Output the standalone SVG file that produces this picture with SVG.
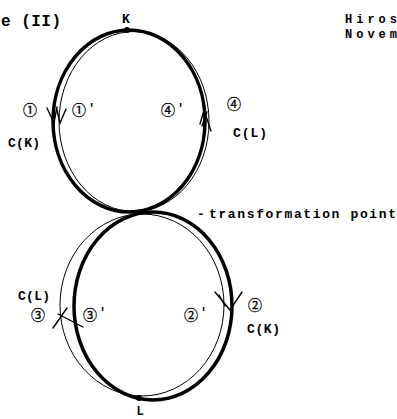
<svg xmlns="http://www.w3.org/2000/svg" width="397" height="419" viewBox="0 0 397 419">
<style>
.thick{fill:none;stroke:#000;stroke-width:3.5}
.thin{fill:none;stroke:#000;stroke-width:1}
.arr{fill:none;stroke:#000;stroke-width:1.4;stroke-linecap:round}
.t{font-family:"Liberation Mono","DejaVu Sans Mono",monospace;font-weight:bold;fill:#000}
.c{font-family:"Noto Sans CJK JP","Noto Sans CJK SC","DejaVu Sans",sans-serif;fill:#000;stroke:#000;stroke-width:0.3;font-size:14px}
</style>
<rect width="397" height="419" fill="#fff"/>
<g id="title">
<text class="t" x="1" y="26" font-size="16" textLength="60" lengthAdjust="spacing">e (II)</text>
<text class="t" x="345" y="23" font-size="12" textLength="52" lengthAdjust="spacing">Hiros</text>
<text class="t" x="345" y="38" font-size="12" textLength="52" lengthAdjust="spacing">Novem</text>
</g>
<g id="connectors">
<ellipse class="thick" cx="129" cy="121" rx="76" ry="91"/>
<ellipse class="thin" cx="134" cy="121.5" rx="75" ry="90"/>
<ellipse class="thick" cx="153" cy="306" rx="79" ry="94"/>
<ellipse class="thin" cx="142" cy="305" rx="82" ry="91"/>
<path class="arr" d="M47 108 L54 123 L57 107"/>
<path class="arr" d="M57 110 L60 123 L66 109"/>
<path class="arr" d="M200 124 L204 110 L211 131"/>
<path class="arr" d="M202 126 L207 112"/>
<path class="arr" d="M215 292 L230 310 L242 292"/>
<path class="arr" d="M219 295 L225 306"/>
<path class="arr" d="M53 328 L67 308"/>
<path class="arr" d="M58 314 L83 327"/>
</g>
<g id="K">
<circle cx="127" cy="30" r="3"/>
<text class="t" x="126" y="23" font-size="13" text-anchor="middle">K</text>
</g>
<g id="L">
<circle cx="139" cy="398" r="3"/>
<text class="t" x="140" y="415" font-size="12" text-anchor="middle">L</text>
</g>
<g id="transformation-point">
<text class="t" x="197" y="218" font-size="13">-</text>
<text class="t" x="209" y="218" font-size="13" textLength="187" lengthAdjust="spacing">transformation point</text>
</g>
<g id="labels">
<text class="c" x="30" y="115" text-anchor="middle">①</text>
<text class="c" x="79" y="115" text-anchor="middle">①</text>
<text class="t" x="88" y="112" font-size="12">'</text>
<text class="c" x="168" y="115" text-anchor="middle">④</text>
<text class="t" x="177" y="112" font-size="12">'</text>
<text class="c" x="234" y="109" text-anchor="middle">④</text>
<text class="t" x="8" y="147" font-size="13" textLength="32" lengthAdjust="spacing">C(K)</text>
<text class="t" x="233" y="137" font-size="13" textLength="34" lengthAdjust="spacing">C(L)</text>
<text class="t" x="18" y="300" font-size="13" textLength="32" lengthAdjust="spacing">C(L)</text>
<text class="c" x="38" y="320" text-anchor="middle">③</text>
<text class="c" x="90" y="320" text-anchor="middle">③</text>
<text class="t" x="99" y="316" font-size="12">'</text>
<text class="c" x="191" y="320" text-anchor="middle">②</text>
<text class="t" x="200" y="316" font-size="12">'</text>
<text class="c" x="255" y="310" text-anchor="middle">②</text>
<text class="t" x="247" y="333" font-size="13" textLength="33" lengthAdjust="spacing">C(K)</text>
</g>
</svg>
